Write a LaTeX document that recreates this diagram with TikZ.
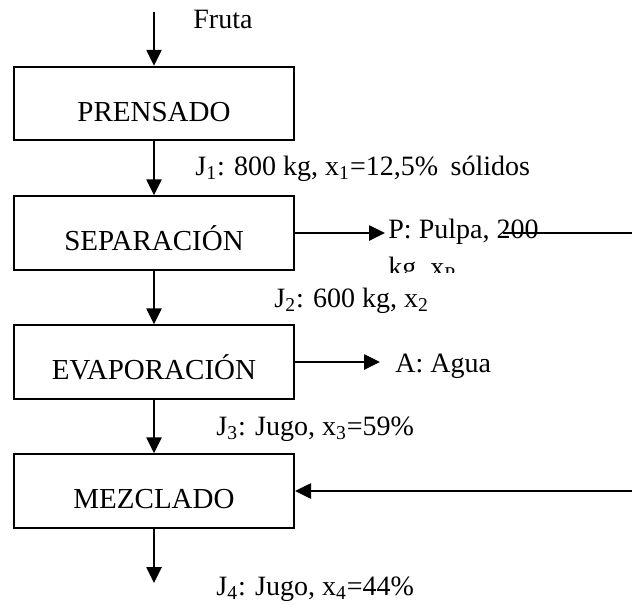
\documentclass[tikz,border=0pt]{standalone}
\usepackage{fontspec}
\setmainfont{Liberation Serif}
\usetikzlibrary{arrows.meta}
\begin{document}
\begin{tikzpicture}[x=0.5pt,y=-0.5pt,
  every node/.style={font=\fontsize{14pt}{16pt}\selectfont},
  procbox/.style={draw,line width=1pt,rectangle,minimum width=140pt,minimum height=36.75pt,inner sep=0pt,text height=17.5pt,text depth=0pt,font=\fontsize{14.5pt}{16pt}\selectfont},
  flow/.style={line width=1.3pt,-{Triangle[length=8pt,width=7.5pt]}},
  lbl/.style={anchor=base west,inner sep=0pt}]
\useasboundingbox (0,0) rectangle (632,605);

% process boxes
\node[procbox] (b1) at (154,103.5) {PRENSADO};
\node[procbox] (b2) at (154,233) {SEPARACIÓN};
\node[procbox] (b3) at (154,362) {EVAPORACIÓN};
\node[procbox] (b4) at (154,491) {MEZCLADO};

% free ends
\coordinate (fin) at (154,12);
\coordinate (pend) at (385,233);
\coordinate (ps) at (503,233);
\coordinate (pe) at (632,233);
\coordinate (aend) at (380,362);
\coordinate (min) at (632,491);
\coordinate (jout) at (154,583);

% labels
\node[lbl] (lfruta) at (193,28) {Fruta};
\node[lbl] (lj1) at (195,175) {J\textsubscript{1}: 800 kg, x\textsubscript{1}=12,5\%\hspace{0.2em} sólidos};
\node[lbl] (lj2) at (274,307) {J\textsubscript{2}: 600 kg, x\textsubscript{2}};
\node[lbl] (lj3) at (216,435) {J\textsubscript{3}: Jugo, x\textsubscript{3}=59\%};
\node[lbl] (lj4) at (216,595) {J\textsubscript{4}: Jugo, x\textsubscript{4}=44\%};
\node[lbl] (la) at (395,372) {A: Agua};
\begin{scope}
  \clip (386,200) rectangle (632,272);
  \node[lbl] (lp1) at (388,238) {P: Pulpa, 200};
  \node[lbl] (lp2) at (388,276) {kg, x\textsubscript{P}};
\end{scope}

% connectors
\draw[flow] (fin) -- (b1.north);
\draw[flow] (b1.south) -- (b2.north);
\draw[flow] (b2.east) -- (pend);
\draw[line width=1pt] (ps) -- (pe);
\draw[flow] (b2.south) -- (b3.north);
\draw[flow] (b3.east) -- (aend);
\draw[flow] (b3.south) -- (b4.north);
\draw[flow] (min) -- (b4.east);
\draw[flow] (b4.south) -- (jout);
\end{tikzpicture}
\end{document}
